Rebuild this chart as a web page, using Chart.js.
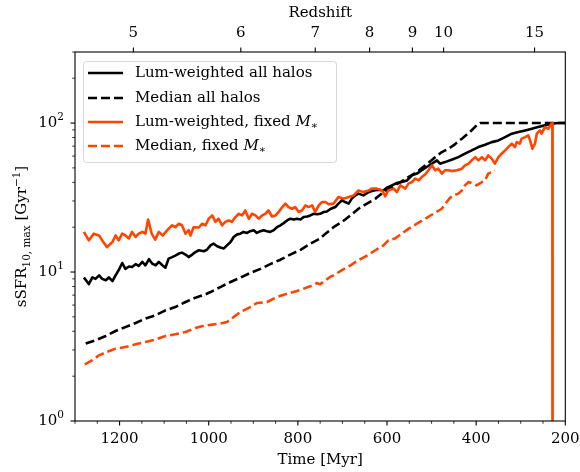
<!DOCTYPE html>
<html>
<head>
<meta charset="utf-8">
<script src="https://cdn.jsdelivr.net/npm/chart.js@4.4.1/dist/chart.umd.min.js"></script>
<style>
  html, body { margin: 0; padding: 0; background: #fff; }
</style>
</head>
<body>
<canvas id="sfrChart" width="580" height="472"></canvas>
<script>
// --- data ---
const timeTicks = [1200, 1000, 800, 600, 400, 200];
const redshiftLabels = [5, 6, 7, 8, 9, 10, 15];
const redshiftTimes = [1169, 928, 761, 639, 543, 473, 269];
const yTickValues = [1, 10, 100];
const yTickExps = ["0", "1", "2"];

const seriesLabels = ["Lum-weighted all halos", "Median all halos", "Lum-weighted, fixed ", "Median, fixed "];

// Lum-weighted all halos
const lumAllTime = [1280, 1269, 1261, 1254, 1246, 1239, 1231, 1224, 1216, 1209,
  1202, 1194, 1187, 1179, 1172, 1164, 1157, 1149, 1142, 1134,
  1127, 1119, 1112, 1104, 1097, 1090, 1082, 1075, 1067, 1060,
  1052, 1045, 1037, 1030, 1022, 1011, 1004, 996, 989, 981,
  974, 966, 959, 951, 944, 936, 929, 922, 914, 907,
  899, 892, 884, 877, 869, 862, 854, 847, 839, 832,
  824, 817, 809, 802, 794, 787, 779, 772, 765, 757,
  750, 742, 735, 727, 716, 709, 701, 694, 686, 679,
  671, 664, 653, 641, 630, 619, 608, 600, 589, 578,
  567, 555, 544, 533, 522, 511, 499, 488, 481, 470,
  455, 440, 425, 410, 395, 380, 365, 350, 335, 320,
  305, 290, 275, 261, 246, 231, 215, 200];
const lumAllSfr = [9.2, 8.3, 9.2, 9.0, 9.5, 9.0, 8.8, 9.2, 8.7, 9.5,
  10.3, 11.5, 10.5, 10.9, 10.8, 11.3, 11.0, 11.7, 11.1, 12.2,
  11.4, 11.1, 11.7, 11.1, 10.7, 12.3, 12.6, 12.9, 13.3, 13.5,
  13.1, 12.6, 13.1, 13.6, 14.0, 13.8, 14.1, 15.1, 15.5, 14.9,
  14.6, 14.4, 15.1, 15.9, 17.2, 17.9, 18.1, 18.6, 18.3, 18.8,
  19.1, 18.3, 18.8, 19.1, 18.8, 18.6, 19.1, 20.0, 20.6, 21.3,
  22.2, 22.8, 22.5, 22.8, 22.5, 23.4, 23.6, 24.0, 24.6, 24.4,
  24.6, 25.3, 25.5, 26.5, 27.3, 28.8, 30.3, 29.5, 28.8, 31.1,
  32.7, 33.6, 32.7, 34.4, 35.3, 35.7, 35.3, 36.9, 38.2, 39.6,
  40.2, 41.2, 44.6, 45.8, 48.2, 50.7, 53.4, 56.2, 53.4, 54.7,
  56.8, 59.1, 62.3, 65.6, 69.0, 71.6, 74.5, 76.5, 80.5, 84.9,
  87.1, 89.3, 91.6, 94.0, 96.5, 99.1, 100, 100];

// Median all halos
const medAllTime = [1276, 1254, 1231, 1209, 1187, 1164, 1142, 1120, 1097, 1075,
  1052, 1030, 1007, 996, 974, 951, 929, 907, 884, 862,
  839, 817, 794, 772, 750, 738, 720, 701, 682, 664,
  645, 626, 608, 589, 570, 552, 533, 514, 496, 477,
  465, 451, 432, 414, 399, 391, 200];
const medAllSfr = [3.31, 3.48, 3.72, 4.02, 4.27, 4.55, 4.87, 5.12, 5.53, 5.82,
  6.29, 6.73, 7.08, 7.34, 7.93, 8.57, 9.17, 9.85, 10.5, 11.3,
  12.1, 13.1, 14.1, 15.5, 16.8, 18.1, 20.0, 21.7, 24.0, 26.6,
  28.8, 31.1, 34.4, 37.2, 40.2, 43.4, 46.9, 52.0, 57.7, 63.9,
  66.5, 70.8, 78.6, 87.1, 96.5, 100, 100];

// Lum-weighted, fixed M*
const lumFixTime = [1280, 1269, 1258, 1246, 1239, 1228, 1216, 1209, 1202, 1194,
  1187, 1179, 1172, 1164, 1157, 1149, 1142, 1136, 1128, 1120,
  1112, 1103, 1093, 1082, 1075, 1067, 1060, 1052, 1045, 1041,
  1034, 1022, 1015, 1007, 1000, 992, 985, 978, 970, 963,
  955, 948, 940, 933, 925, 918, 910, 903, 895, 888,
  880, 873, 866, 858, 850, 843, 835, 828, 821, 813,
  806, 798, 791, 783, 776, 768, 761, 753, 746, 738,
  731, 720, 709, 697, 686, 675, 664, 653, 641, 634,
  623, 611, 604, 597, 585, 578, 570, 559, 552, 544,
  537, 529, 522, 514, 507, 499, 492, 485, 477, 470,
  462, 455, 443, 432, 425, 417, 410, 402, 395, 387,
  380, 373, 365, 358, 350, 343, 335, 328, 320, 313,
  309, 302, 298, 290, 283, 279, 274, 268, 264, 257,
  253, 246, 238, 231, 229, 228.5];
const lumFixSfr = [18.6, 16.3, 18.1, 17.6, 16.3, 14.7, 15.9, 17.6, 16.3, 18.1,
  17.6, 16.8, 18.6, 17.2, 18.1, 18.6, 18.1, 22.5, 18.1, 16.5,
  18.6, 17.6, 19.1, 20.6, 20.0, 21.1, 20.6, 18.1, 19.1, 17.6,
  20.0, 19.9, 21.1, 20.6, 22.8, 24.0, 21.7, 22.8, 20.6, 21.7,
  22.2, 21.7, 23.4, 24.6, 24.0, 25.9, 22.8, 24.6, 24.0, 22.8,
  24.0, 24.6, 25.9, 23.6, 24.0, 25.3, 27.3, 28.8, 27.3, 26.6,
  27.3, 25.3, 25.9, 28.0, 27.3, 28.0, 25.3, 28.0, 29.5, 29.5,
  28.5, 28.8, 31.9, 31.1, 31.9, 32.7, 35.3, 34.4, 35.3, 36.3,
  36.3, 35.3, 32.2, 35.3, 36.3, 34.4, 38.2, 36.3, 39.2, 40.2,
  42.4, 41.2, 43.4, 45.3, 48.2, 52.0, 48.2, 49.4, 45.8, 48.2,
  48.2, 47.6, 48.2, 49.4, 52.0, 53.4, 56.2, 59.1, 56.2, 59.1,
  56.2, 60.7, 57.7, 53.4, 59.1, 62.3, 65.6, 69.0, 72.7, 69.0,
  74.5, 72.7, 78.6, 80.5, 82.7, 76.5, 67.3, 72.7, 84.9, 89.3,
  84.9, 94.0, 91.6, 99.1, 100, 0.001];

// Median, fixed M*
const medFixTime = [1278, 1261, 1246, 1231, 1209, 1187, 1164, 1142, 1120, 1097,
  1075, 1052, 1030, 1007, 996, 974, 959, 944, 929, 907,
  892, 869, 847, 824, 802, 787, 772, 757, 750, 738,
  727, 720, 701, 682, 664, 645, 626, 608, 597, 582,
  567, 552, 533, 514, 496, 477, 466, 458, 451, 440,
  432, 425, 417, 406, 399, 387, 380, 373, 365, 358];
const medFixSfr = [2.40, 2.56, 2.76, 2.89, 3.06, 3.14, 3.27, 3.39, 3.52, 3.72,
  3.82, 3.96, 4.21, 4.40, 4.42, 4.51, 4.62, 4.99, 5.39, 5.82,
  6.19, 6.29, 6.80, 7.16, 7.46, 7.74, 8.02, 8.44, 8.27, 8.80,
  9.30, 9.50, 10.3, 11.1, 12.0, 12.9, 14.0, 15.1, 16.3, 16.8,
  18.1, 19.5, 21.1, 22.8, 24.6, 26.6, 29.5, 31.6, 32.7, 33.6,
  35.3, 38.2, 40.2, 39.2, 38.2, 40.2, 41.2, 45.8, 46.9, 48.2];

// --- styling ---
const FONT_FAMILY = "'DejaVu Serif', serif";
const BLACK = "#000000";
const ORANGE = "#ff4500";
const DASH = [9, 4];

function toPoints(ts, vs) {
  return ts.map((t, i) => ({ x: t, y: vs[i] }));
}

const seriesStyles = [
  { color: BLACK, dash: [] },
  { color: BLACK, dash: DASH },
  { color: ORANGE, dash: [] },
  { color: ORANGE, dash: DASH },
];

// draw text pieces (normal / sub / sup / italic) left to right, returns width
function drawPieces(ctx, pieces, x, y, measureOnly) {
  let cx = x;
  pieces.forEach(p => {
    const size = p.kind === "sub" || p.kind === "sup" ? 10.5 : 15;
    const style = p.italic ? "italic " : "";
    ctx.font = style + size + "px " + FONT_FAMILY;
    let dy = 0;
    if (p.kind === "sub") dy = 3.5;
    if (p.kind === "sup") dy = -6;
    if (!measureOnly) ctx.fillText(p.text, cx, y + dy);
    cx += ctx.measureText(p.text).width;
  });
  return cx - x;
}

const axesDecor = {
  id: "axesDecor",
  afterDraw(chart) {
    const { ctx, chartArea: a, scales } = chart;
    ctx.save();
    ctx.strokeStyle = BLACK;
    ctx.fillStyle = BLACK;

    // frame
    ctx.lineWidth = 1.1;
    ctx.strokeRect(a.left, a.top, a.right - a.left, a.bottom - a.top);

    function tick(x1, y1, x2, y2, w) {
      ctx.lineWidth = w;
      ctx.beginPath();
      ctx.moveTo(x1, y1);
      ctx.lineTo(x2, y2);
      ctx.stroke();
    }

    // bottom ticks
    for (let t = 200; t <= 1300; t += 50) {
      const x = scales.x.getPixelForValue(t);
      if (timeTicks.includes(t)) tick(x, a.bottom, x, a.bottom + 4.5, 1.1);
      else tick(x, a.bottom, x, a.bottom + 2.8, 0.8);
    }

    // top ticks
    redshiftTimes.forEach(t => {
      const x = scales.x2.getPixelForValue(t);
      tick(x, a.top, x, a.top - 4.5, 1.1);
    });

    // left ticks, log minors
    for (let dec = 1; dec <= 100; dec *= 10) {
      for (let d = 1; d <= 9; d++) {
        const v = d * dec;
        if (v > 300) break;
        const y = scales.y.getPixelForValue(v);
        if (d === 1) tick(a.left, y, a.left - 4.5, y, 1.1);
        else tick(a.left, y, a.left - 2.8, y, 0.8);
      }
    }

    // y tick labels 10^k
    ctx.textBaseline = "middle";
    ctx.textAlign = "left";
    yTickValues.forEach((v, i) => {
      const y = scales.y.getPixelForValue(v);
      const pieces = [{ text: "10" }, { text: yTickExps[i], kind: "sup" }];
      const w = drawPieces(ctx, pieces, 0, 0, true);
      drawPieces(ctx, pieces, 64 - w, y + 0.5, false);
    });

    // y axis title
    const title = [
      { text: "sSFR" },
      { text: "10, max", kind: "sub" },
      { text: " [Gyr" },
      { text: "\u22121", kind: "sup" },
      { text: "]" },
    ];
    ctx.textBaseline = "alphabetic";
    const tw = drawPieces(ctx, title, 0, 0, true);
    ctx.translate(26, (a.top + a.bottom) / 2);
    ctx.rotate(-Math.PI / 2);
    drawPieces(ctx, title, -tw / 2, 0, false);
    ctx.restore();
  },
};

const legendBox = {
  id: "legendBox",
  afterDraw(chart) {
    const { ctx, chartArea: a } = chart;
    const left = a.left + 8, top = a.top + 9, w = 253, h = 101;
    ctx.save();
    ctx.beginPath();
    ctx.roundRect(left + 0.5, top + 0.5, w, h, 3);
    ctx.fillStyle = "rgba(255,255,255,0.8)";
    ctx.fill();
    ctx.strokeStyle = "rgba(204,204,204,0.8)";
    ctx.lineWidth = 1;
    ctx.stroke();

    const rowY = [top + 12, top + 37, top + 61, top + 85];
    seriesLabels.forEach((label, i) => {
      const y = rowY[i];
      ctx.strokeStyle = seriesStyles[i].color;
      ctx.lineWidth = 2.6;
      ctx.setLineDash(seriesStyles[i].dash);
      ctx.beginPath();
      ctx.moveTo(left + 5, y);
      ctx.lineTo(left + 40, y);
      ctx.stroke();
      ctx.setLineDash([]);

      ctx.fillStyle = BLACK;
      ctx.textBaseline = "middle";
      ctx.textAlign = "left";
      const pieces = [{ text: label }];
      if (i >= 2) {
        pieces.push({ text: "M", italic: true });
        pieces.push({ text: "\u2217", kind: "sub" });
      }
      drawPieces(ctx, pieces, left + 52, y + 0.5, false);
    });
    ctx.restore();
  },
};

const tickFont = { family: FONT_FAMILY, size: 15 };

// keep the plot box fixed regardless of label overhang
function fixSidePadding(s) {
  s.paddingLeft = 0;
  s.paddingRight = 0;
}

const chart = new Chart(document.getElementById("sfrChart").getContext("2d"), {
  type: "line",
  data: {
    datasets: [
      { label: seriesLabels[0], data: toPoints(lumAllTime, lumAllSfr), order: 4 },
      { label: seriesLabels[1], data: toPoints(medAllTime, medAllSfr), order: 3 },
      { label: seriesLabels[2], data: toPoints(lumFixTime, lumFixSfr), order: 2 },
      { label: seriesLabels[3], data: toPoints(medFixTime, medFixSfr), order: 1 },
    ].map((ds, i) => Object.assign(ds, {
      borderColor: seriesStyles[i].color,
      borderDash: seriesStyles[i].dash,
      borderWidth: 2.6,
      borderJoinStyle: "round",
      pointRadius: 0,
      tension: 0,
      fill: false,
      clip: 0,
    })),
  },
  options: {
    responsive: false,
    animation: false,
    events: [],
    layout: { padding: { left: 0, right: 14.7, top: 0, bottom: 0 } },
    plugins: { legend: { display: false }, tooltip: { enabled: false } },
    scales: {
      x: {
        type: "linear",
        position: "bottom",
        reverse: true,
        min: 200,
        max: 1300,
        grid: { display: false, drawTicks: false },
        border: { display: false },
        ticks: {
          font: tickFont, color: BLACK, padding: 8.8, maxRotation: 0, autoSkip: false,
          callback: v => String(v),
        },
        afterBuildTicks: s => { s.ticks = timeTicks.map(v => ({ value: v })); },
        afterFit: s => { s.height = 51; fixSidePadding(s); },
        title: { display: true, text: "Time [Myr]", font: tickFont, color: BLACK, padding: { top: 0, bottom: 3 } },
      },
      x2: {
        type: "linear",
        position: "top",
        reverse: true,
        min: 200,
        max: 1300,
        grid: { display: false, drawTicks: false },
        border: { display: false },
        ticks: {
          font: tickFont, color: BLACK, padding: 10, maxRotation: 0, autoSkip: false,
          callback: (v, i) => String(redshiftLabels[i]),
        },
        afterBuildTicks: s => { s.ticks = redshiftTimes.map(v => ({ value: v })); },
        afterFit: s => { s.height = 52; fixSidePadding(s); },
        title: { display: true, text: "Redshift", font: tickFont, color: BLACK, padding: { top: 4, bottom: 0 } },
      },
      y: {
        type: "logarithmic",
        min: 1,
        max: 300,
        grid: { display: false, drawTicks: false },
        border: { display: false },
        ticks: { display: false },
        afterFit: s => { s.width = 75; },
      },
    },
  },
  plugins: [axesDecor, legendBox],
});
</script>
</body>
</html>
